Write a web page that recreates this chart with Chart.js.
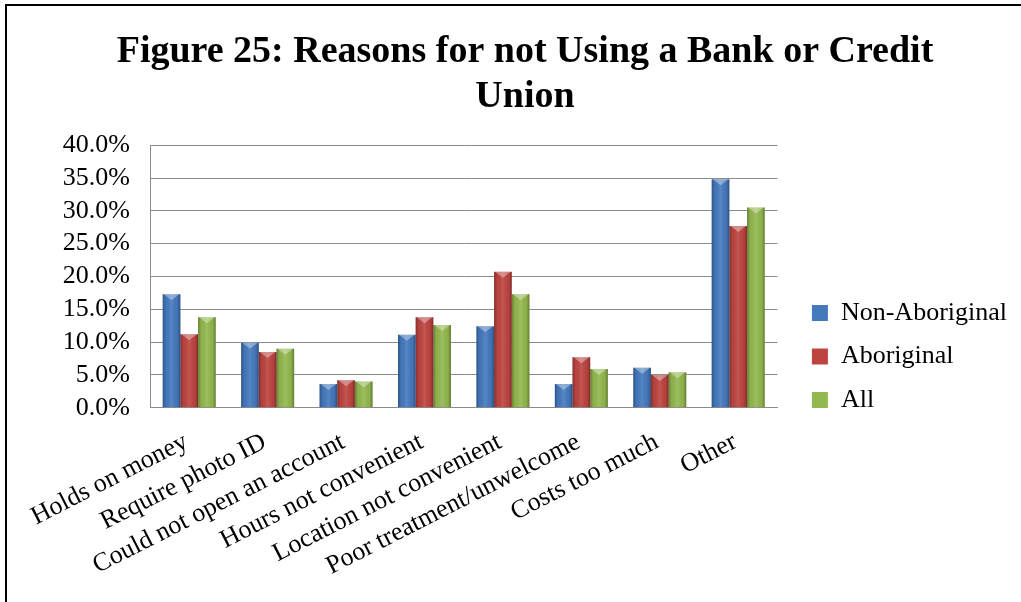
<!DOCTYPE html>
<html>
<head>
<meta charset="utf-8">
<script src="https://cdn.jsdelivr.net/npm/chart.js@4/dist/chart.umd.min.js"></script>
<style>
  html, body { margin: 0; padding: 0; background: #fff; }
  #wrap { position: absolute; left: 0; top: 0; width: 1021px; height: 602px; }
  #frame { position: absolute; left: 5px; top: 4px; width: 1100px; height: 700px;
           border-left: 2px solid #000; border-top: 2px solid #000; pointer-events: none; }
</style>
</head>
<body>
<div id="wrap"><canvas id="chart"></canvas></div>
<div id="frame"></div>
<script>
// categories and values (percent)
const categories = [
    'Holds on money', 'Require photo ID', 'Could not open an account', 'Hours not convenient',
    'Location not convenient', 'Poor treatment/unwelcome', 'Costs too much', 'Other'
];
const nonAboriginal = [17.3, 9.9, 3.6, 11.1, 12.4, 3.6, 6.1, 34.8];
const aboriginal    = [11.2, 8.5, 4.2, 13.8, 20.7, 7.7, 5.0, 27.7];
const allResp       = [13.8, 9.0, 4.0, 12.6, 17.3, 5.9, 5.4, 30.5];
const seriesNames = ['Non-Aboriginal', 'Aboriginal', 'All'];
const seriesColors = ['#4479BE', '#BE4440', '#93B84E'];
const yTicks = [0, 5, 10, 15, 20, 25, 30, 35, 40];

const serif = "'Liberation Serif', 'Times New Roman', serif";

// shading so the bars look like the bevelled office bars
const bevel = {
    id: 'bevel',
    afterDatasetsDraw(chart) {
        const ctx = chart.ctx;
        ctx.save();
        chart.data.datasets.forEach((ds, di) => {
            chart.getDatasetMeta(di).data.forEach(bar => {
                const {x, y, base, width} = bar.getProps(['x', 'y', 'base', 'width'], true);
                const l = x - width / 2, r = x + width / 2;
                const g = ctx.createLinearGradient(l, 0, r, 0);
                g.addColorStop(0, 'rgba(0,0,0,0.30)');
                g.addColorStop(0.18, 'rgba(0,0,0,0.04)');
                g.addColorStop(0.5, 'rgba(255,255,255,0.10)');
                g.addColorStop(0.82, 'rgba(0,0,0,0.04)');
                g.addColorStop(1, 'rgba(0,0,0,0.32)');
                ctx.fillStyle = g;
                ctx.fillRect(l, y, width, base - y);
                ctx.beginPath();
                ctx.moveTo(l + 1, y);
                ctx.lineTo(r - 1, y);
                ctx.lineTo(x, y + Math.min(6, base - y));
                ctx.closePath();
                ctx.fillStyle = 'rgba(255,255,255,0.35)';
                ctx.fill();
            });
        });
        ctx.restore();
    }
};

// legend sits a bit away from the plot and lower than chart.js puts it
const LEGEND_GAP = 17, LEGEND_DROP = 60;
const legendShift = {
    id: 'legendShift',
    afterInit(chart) {
        const lg = chart.legend;
        const fit = lg.fit.bind(lg), draw = lg.draw.bind(lg);
        lg.fit = function () { fit(); this.width += LEGEND_GAP; };
        lg.draw = function () {
            const c = this.ctx;
            c.save();
            c.translate(LEGEND_GAP, LEGEND_DROP);
            draw();
            c.restore();
        };
    }
};

new Chart(document.getElementById('chart'), {
    type: 'bar',
    data: {
        labels: categories,
        datasets: [nonAboriginal, aboriginal, allResp].map((d, i) => ({
            label: seriesNames[i],
            data: d,
            backgroundColor: seriesColors[i],
            borderWidth: 0,
            categoryPercentage: 0.676,
            barPercentage: 1.0
        }))
    },
    options: {
        responsive: true,
        maintainAspectRatio: false,
        animation: false,
        layout: { padding: { left: 33, right: 4, top: 0, bottom: 9 } },
        scales: {
            x: {
                grid: { display: false },
                border: { display: true, color: '#8c8c8c' },
                ticks: {
                    autoSkip: false, minRotation: 27, maxRotation: 27, padding: 11,
                    labelOffset: -3,
                    color: '#000', font: { family: serif, size: 26 }
                }
            },
            y: {
                min: 0, max: 40,
                afterBuildTicks: s => { s.ticks = yTicks.map(v => ({ value: v })); },
                afterFit: s => { s.width = 117; },
                grid: { color: '#8c8c8c', drawTicks: false },
                border: { display: true, color: '#8c8c8c' },
                ticks: {
                    autoSkip: false, padding: 20, color: '#000',
                    font: { family: serif, size: 26 },
                    callback: v => v.toFixed(1) + '%'
                }
            }
        },
        plugins: {
            title: {
                display: true,
                text: ['Figure 25: Reasons for not Using a Bank or Credit', 'Union'],
                color: '#000',
                font: { family: serif, size: 38, weight: 'bold', lineHeight: 1.2 },
                padding: { top: 29, bottom: 25 }
            },
            legend: {
                position: 'right',
                labels: {
                    color: '#000', boxWidth: 16, boxHeight: 16, padding: 17.5,
                    font: { family: serif, size: 26 }
                }
            },
            tooltip: { enabled: false }
        }
    },
    plugins: [bevel, legendShift]
});
</script>
</body>
</html>
